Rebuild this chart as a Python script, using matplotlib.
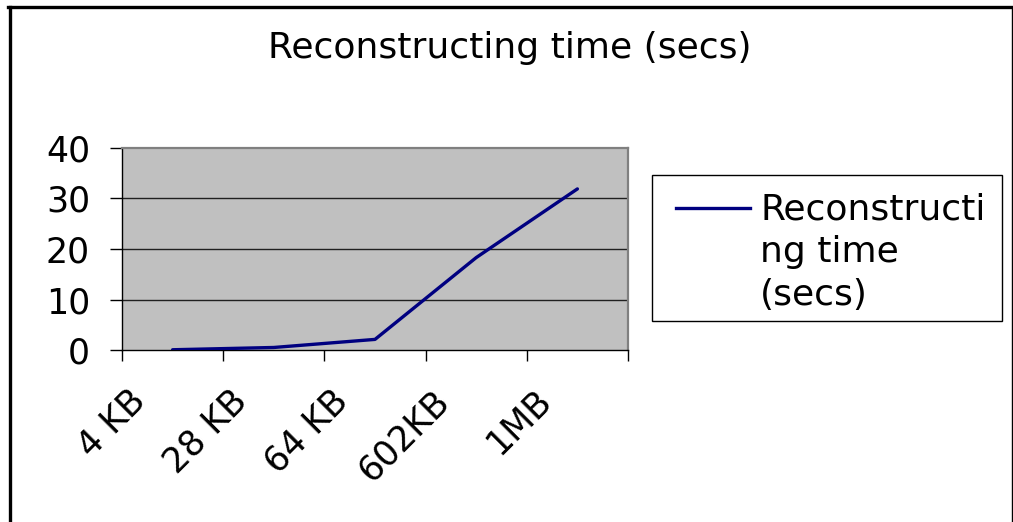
import numpy as np
import matplotlib.pyplot as plt
import matplotlib.transforms as mtransforms
from matplotlib.lines import Line2D
from matplotlib.patches import Rectangle

# file sizes and how long reconstruction took for each
sizes = ['4 KB', '28 KB', '64 KB', '602KB', '1MB']
recon_secs = [0.05, 0.5, 2.1, 18.3, 31.9]
y_ticks = [0, 10, 20, 30, 40]
title = 'Reconstructing time (secs)'
legend_label = 'Reconstructi\nng time\n(secs)'

W, H = 1013, 522
FS = 26
TICK_FS = 25

plt.rcParams['font.family'] = 'DejaVu Sans'

fig = plt.figure(figsize=(W / 100, H / 100), dpi=100)
fig.patch.set_facecolor('white')

def fx(px):
    return px / W

def fy(py):
    return 1 - py / H

# plot area in pixel terms
left, right, top, bottom = 122, 628, 148, 350
ax = fig.add_axes([fx(left), fy(bottom), fx(right - left), (bottom - top) / H])
ax.set_facecolor('#c0c0c0')

x = np.arange(len(sizes))
line, = ax.plot(x, recon_secs, color='#000080', lw=2.4, solid_capstyle='round',
                zorder=3)

ax.set_xlim(-0.5, len(sizes) - 0.5)
ax.set_ylim(0, 40)

# horizontal gridlines
for v in y_ticks[1:-1]:
    ax.axhline(v, color='#202020', lw=1.0, zorder=1)

for s in ['top', 'right']:
    ax.spines[s].set_color('#808080')
    ax.spines[s].set_linewidth(1.6)
for s in ['left', 'bottom']:
    ax.spines[s].set_color('black')
    ax.spines[s].set_linewidth(1.0)

ax.set_yticks(y_ticks)
ax.set_yticklabels([str(t) for t in y_ticks])
ax.tick_params(axis='y', direction='out', length=9, width=1, colors='black',
               labelsize=TICK_FS, pad=14)

# ticks at category boundaries, labels at centres
ax.set_xticks(np.arange(-0.5, len(sizes), 1.0))
ax.set_xticklabels([])
ax.set_xticks(x, minor=True)
ax.set_xticklabels(sizes, minor=True, rotation=45, ha='right',
                   rotation_mode='anchor', fontsize=TICK_FS)
ax.tick_params(axis='x', which='major', direction='out', length=8, width=1)
ax.tick_params(axis='x', which='minor', length=0, pad=24)
shift = mtransforms.ScaledTranslation(-44 / 100, 0, fig.dpi_scale_trans)
for lab in ax.get_xticklabels(minor=True):
    lab.set_transform(lab.get_transform() + shift)

fig.text(fx(510), fy(48), title, ha='center', va='center', fontsize=FS)

# legend box, key line beside the first text line
fig.add_artist(Rectangle((fx(652), fy(321)), fx(350), (321 - 175) / H,
                         transform=fig.transFigure, facecolor='white',
                         edgecolor='black', lw=1.0))
fig.add_artist(Line2D([fx(676), fx(750)], [fy(208), fy(208)],
                      color=line.get_color(), lw=line.get_linewidth()))
leg_text = fig.text(fx(760), fy(193), legend_label, ha='left', va='top',
                    fontsize=FS, linespacing=1.31)

# chart border
fig.add_artist(Line2D([fx(9.5), fx(9.5)], [fy(7), 0], color='black', lw=2.4))
fig.add_artist(Line2D([fx(8.3), fx(1012)], [fy(7), fy(7)], color='black', lw=2.4))
fig.add_artist(Line2D([fx(1011.5), fx(1011.5)], [fy(7), 0], color='black', lw=1.0))

fig.savefig('out.png', dpi=100)
